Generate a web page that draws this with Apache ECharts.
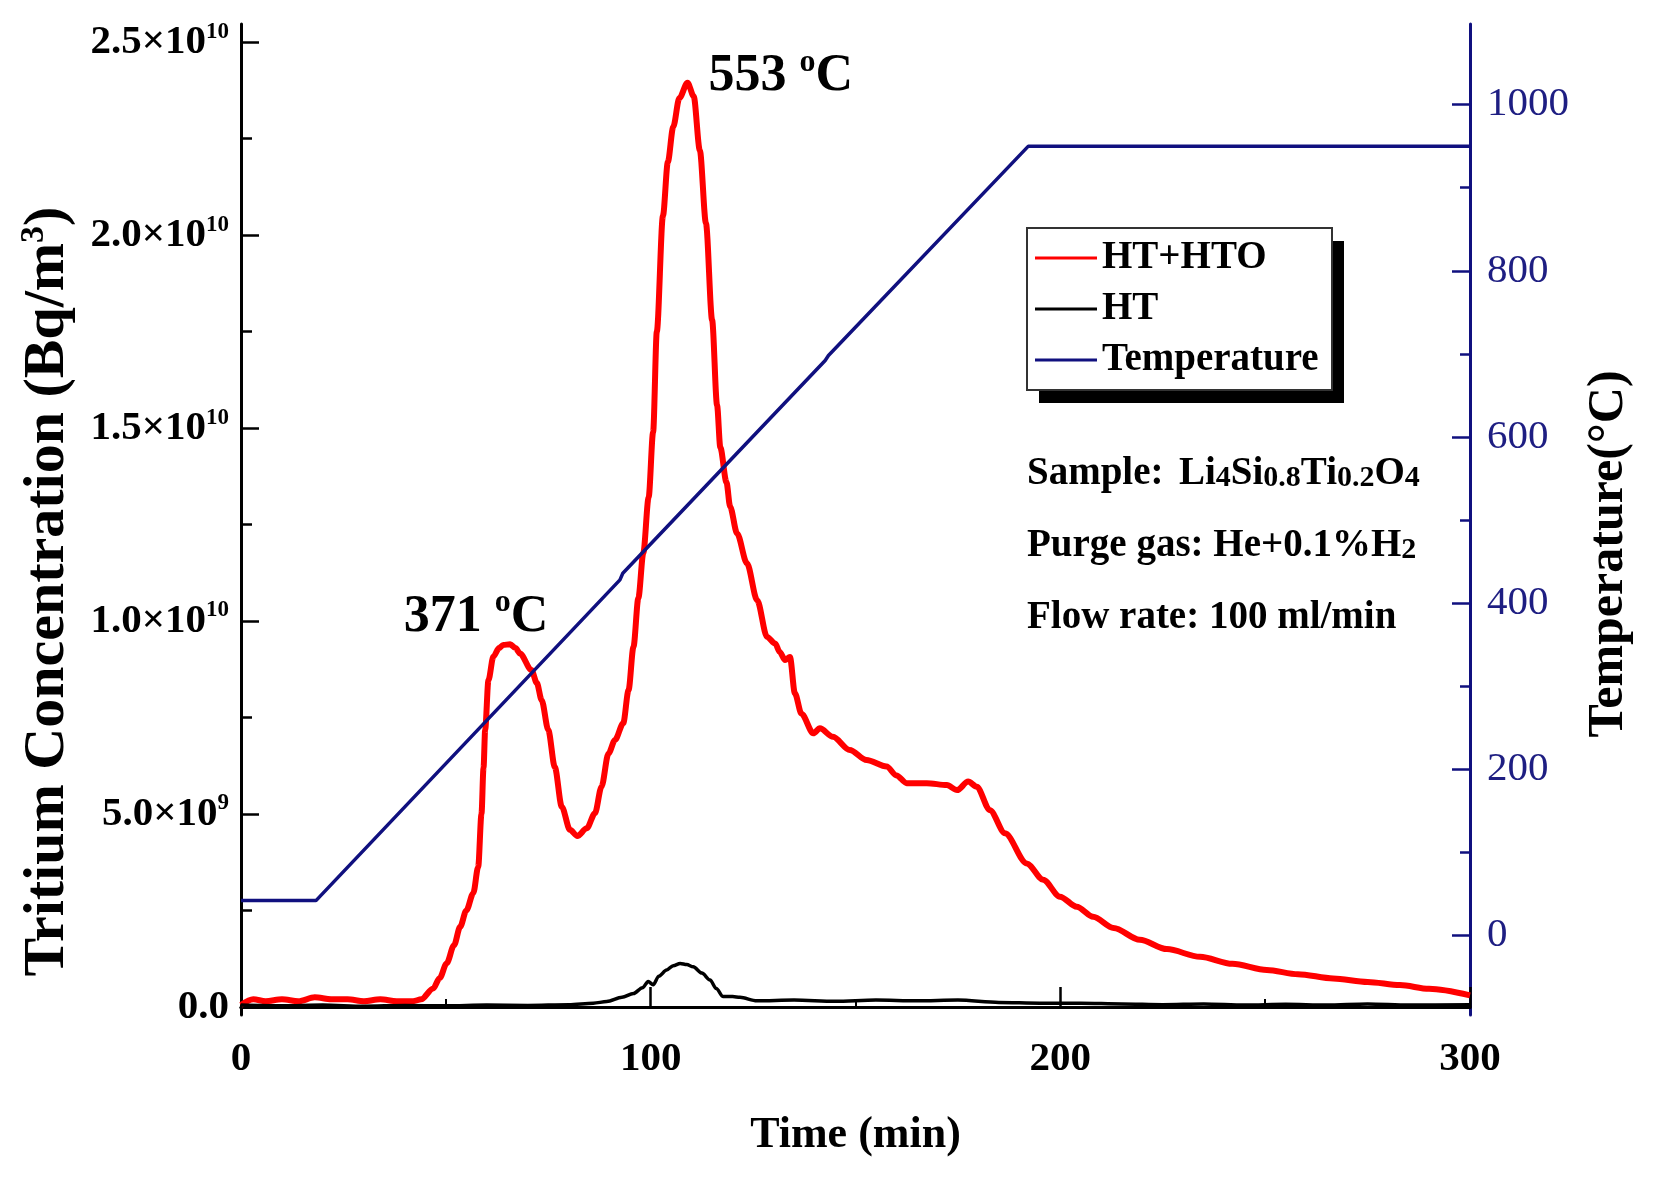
<!DOCTYPE html>
<html>
<head>
<meta charset="utf-8">
<title>Tritium release</title>
<script src="https://cdn.jsdelivr.net/npm/echarts@6.0.0/dist/echarts.min.js"></script>
<style>
    body{margin:0;background:#ffffff;}
    #main{width:1654px;height:1178px;}
</style>
</head>
<body>
<div id="main"></div>
<script>
// HT+HTO curve, time in min, concentration in 1e9 Bq/m3
const timeHTO = [0, 3, 6, 10, 14, 18, 22, 26, 30, 34, 38, 42, 44, 46.9, 48.5, 50.2, 52, 53.5, 55, 56.7, 57.9, 58.7, 59.2, 59.6, 60.4, 61.6, 63, 64, 65.7, 67, 68.1, 70.9, 72.2, 73.4, 75, 76.6, 78.3, 80.3, 82.1, 84.4, 86.4, 88, 89.7, 91.3, 93.3, 94.6, 95.8, 97, 98.2, 99.5, 100.6, 101.5, 103, 104.2, 105.5, 107, 109, 110.5, 112, 113.5, 115, 116.2, 117, 118.5, 119.4, 121.1, 123.5, 126, 128.4, 130.4, 131.5, 132.8, 134, 135.2, 136.8, 139.7, 141.3, 144.5, 148.6, 152.7, 157.6, 160, 162.5, 167.4, 172.3, 174.8, 177.5, 179.6, 182.8, 186.5, 191.8, 195.8, 199.9, 204, 208, 213, 219.4, 226, 234.1, 242, 250.4, 258, 266.6, 275, 282.9, 290, 300];
const valHTO = [0.05, 0.2, 0.15, 0.2, 0.15, 0.25, 0.2, 0.2, 0.15, 0.2, 0.15, 0.15, 0.2, 0.48, 0.75, 1.13, 1.6, 2.08, 2.5, 2.95, 3.63, 5.0, 6.2, 7.18, 8.47, 9.08, 9.3, 9.38, 9.4, 9.3, 9.16, 8.73, 8.4, 7.95, 7.18, 6.22, 5.19, 4.59, 4.43, 4.63, 5.02, 5.71, 6.57, 6.92, 7.35, 8.21, 9.33, 10.6, 11.76, 13.2, 14.9, 17.5, 20.5, 21.9, 22.8, 23.55, 23.95, 23.6, 22.2, 20.3, 17.8, 15.6, 14.5, 13.6, 12.96, 12.27, 11.5, 10.54, 9.59, 9.42, 9.2, 8.99, 9.07, 8.13, 7.6, 7.09, 7.22, 7.0, 6.66, 6.4, 6.23, 6.0, 5.8, 5.8, 5.75, 5.62, 5.84, 5.71, 5.1, 4.5, 3.72, 3.3, 2.86, 2.6, 2.34, 2.05, 1.74, 1.5, 1.3, 1.12, 0.96, 0.85, 0.74, 0.65, 0.57, 0.47, 0.3];

// HT curve
const timeHT = [0, 10, 20, 30, 40, 50, 60, 70, 80, 86, 89.3, 93, 95.8, 98, 99.4, 100.6, 102, 103.9, 105.5, 107.2, 108.8, 110.4, 112.5, 114.5, 116, 117.7, 120, 121.8, 125.9, 135, 145, 155, 165, 175, 185, 195, 205, 215, 225, 235, 245, 255, 265, 275, 285, 300];
const valHT = [0.05, 0.03, 0.05, 0.02, 0.04, 0.03, 0.05, 0.04, 0.06, 0.1, 0.14, 0.25, 0.35, 0.5, 0.66, 0.58, 0.8, 0.96, 1.07, 1.13, 1.1, 1.04, 0.88, 0.7, 0.48, 0.27, 0.27, 0.25, 0.16, 0.18, 0.15, 0.18, 0.16, 0.18, 0.12, 0.1, 0.1, 0.08, 0.06, 0.08, 0.05, 0.07, 0.05, 0.08, 0.05, 0.06];

// temperature program
const timeTemp = [0, 18.3, 92.5, 93.2, 142.6, 143.4, 192.2, 300];
const valTemp = [42, 42, 428, 436, 692, 698, 950, 950];

// axis ticks
const leftTickValues = [0, 5, 10, 15, 20, 25];
const leftTickLabels = ['0.0', '5.0×10{sup|9}', '1.0×10{sup|10}', '1.5×10{sup|10}', '2.0×10{sup|10}', '2.5×10{sup|10}'];
const leftMinorValues = [2.5, 7.5, 12.5, 17.5, 22.5];
const rightTickValues = [0, 200, 400, 600, 800, 1000];
const rightMinorValues = [100, 300, 500, 700, 900];

const legendNames = ['HT+HTO', 'HT', 'Temperature'];
const noteLines = [
    '{b|Sample:}',
    '{b|Li}{s|4}{b|Si}{s|0.8}{b|Ti}{s|0.2}{b|O}{s|4}',
    '{b|Purge gas: He+0.1%H}{s|2}',
    '{b|Flow rate: 100 ml/min}'
];

const FONT = '"Liberation Serif", "Times New Roman", serif';
const NAVY = '#10107f';

function pairs(xs, ys){
    return xs.map((x, i) => [x, ys[i]]);
}

function leftLabel(val){
    for(let i in leftTickValues){
        if(Math.abs(leftTickValues[i] - val) < 1e-6){
            return leftTickLabels[i];
        }
    }
    return '';
}

function peakLabel(text, align, offset){
    return {
        show: true,
        position: 'inside',
        align: align,
        verticalAlign: 'middle',
        offset: offset,
        formatter: '{n|' + text + ' }{sup|o}{n|C}',
        rich: {
            n: {fontFamily: FONT, fontSize: 52, fontWeight: 'bold', color: '#000', lineHeight: 56, verticalAlign: 'bottom'},
            sup: {fontFamily: FONT, fontSize: 32, fontWeight: 'bold', color: '#000', lineHeight: 32, verticalAlign: 'top'}
        }
    };
}

function renderChart(){
    let myChart = echarts.init(document.getElementById('main'));
    let subRich = {
        b: {fontFamily: FONT, fontSize: 39, fontWeight: 'bold', color: '#000', lineHeight: 46, verticalAlign: 'bottom'},
        s: {fontFamily: FONT, fontSize: 30, fontWeight: 'bold', color: '#000', lineHeight: 30, verticalAlign: 'bottom'}
    };
    let option = {
        backgroundColor: '#ffffff',
        animation: false,
        grid: {left: 241, right: 184, top: 24, bottom: 163, outerBoundsMode: 'none'},
        legend: {
            data: legendNames,
            orient: 'vertical',
            left: 1027,
            top: 228,
            padding: [10, 8, 10, 8],
            itemGap: 11,
            itemWidth: 62,
            itemHeight: 3,
            icon: 'rect',
            textStyle: {fontFamily: FONT, fontSize: 39, fontWeight: 'bold', color: '#000', lineHeight: 40}
        },
        xAxis: [{
            type: 'value',
            position: 'bottom',
            min: 0,
            max: 300,
            interval: 100,
            axisLine: {lineStyle: {color: '#000', width: 3}},
            axisTick: {inside: true, length: 20, lineStyle: {color: '#000', width: 2.5}},
            minorTick: {show: true, splitNumber: 2, length: 8, lineStyle: {color: '#000', width: 2}},
            axisLabel: {margin: 24, fontFamily: FONT, fontSize: 41, fontWeight: 'bold', color: '#000'},
            splitLine: {show: false},
            name: 'Time (min)',
            nameLocation: 'middle',
            nameGap: 99,
            nameTextStyle: {fontFamily: FONT, fontSize: 44, fontWeight: 'bold', color: '#000'}
        }, {
            // top frame line
            type: 'value',
            position: 'top',
            min: 0,
            max: 300,
            axisLine: {lineStyle: {color: '#000', width: 3}},
            axisTick: {show: false},
            axisLabel: {show: false},
            splitLine: {show: false}
        }],
        yAxis: [{
            type: 'value',
            position: 'left',
            min: -0.207,
            max: 25.47,
            axisLine: {show: true, lineStyle: {color: '#000', width: 3}},
            axisTick: {show: true, inside: true, length: 18, customValues: leftTickValues, lineStyle: {color: '#000', width: 2.5}},
            axisLabel: {
                customValues: leftTickValues,
                margin: 12,
                formatter: leftLabel,
                fontFamily: FONT, fontSize: 41, fontWeight: 'bold', color: '#000', lineHeight: 44,
                rich: {
                    sup: {fontFamily: FONT, fontSize: 23, fontWeight: 'bold', color: '#000', lineHeight: 22, verticalAlign: 'top'}
                }
            },
            splitLine: {show: false},
            name: 'Tritium Concentration (Bq/m{sup|3})',
            nameLocation: 'middle',
            nameRotate: 90,
            nameGap: 162,
            nameTextStyle: {
                fontFamily: FONT, fontSize: 58, fontWeight: 'bold', color: '#000', lineHeight: 62,
                padding: [0, 144, 0, 0],
                rich: {
                    sup: {fontFamily: FONT, fontSize: 34, fontWeight: 'bold', color: '#000', lineHeight: 34, verticalAlign: 'top'}
                }
            }
        }, {
            // minor ticks of the left axis
            type: 'value',
            position: 'left',
            min: -0.207,
            max: 25.47,
            axisLine: {show: false},
            axisTick: {show: true, inside: true, length: 11, customValues: leftMinorValues, lineStyle: {color: '#000', width: 2.5}},
            axisLabel: {show: false},
            splitLine: {show: false}
        }, {
            type: 'value',
            position: 'right',
            min: -95.7,
            max: 1097,
            axisLine: {show: true, lineStyle: {color: NAVY, width: 3}},
            axisTick: {show: true, inside: true, length: 18, customValues: rightTickValues, lineStyle: {color: NAVY, width: 2.5}},
            axisLabel: {
                customValues: rightTickValues,
                margin: 17,
                formatter: (v) => String(v),
                fontFamily: FONT, fontSize: 41, color: '#1e1e82'
            },
            splitLine: {show: false},
            name: 'Temperature(°C)',
            nameLocation: 'middle',
            nameRotate: 90,
            nameGap: 112,
            nameTextStyle: {fontFamily: FONT, fontSize: 50, fontWeight: 'bold', color: '#000', lineHeight: 54, padding: [0, 69, 0, 0]}
        }, {
            // minor ticks of the right axis
            type: 'value',
            position: 'right',
            min: -95.7,
            max: 1097,
            axisLine: {show: false},
            axisTick: {show: true, inside: true, length: 10, customValues: rightMinorValues, lineStyle: {color: NAVY, width: 2.5}},
            axisLabel: {show: false},
            splitLine: {show: false}
        }],
        graphic: [{
            // legend box with its drop shadow
            type: 'rect',
            z: 3,
            shape: {x: 1039, y: 241, width: 305, height: 162},
            style: {fill: '#000'}
        }, {
            type: 'rect',
            z: 3,
            shape: {x: 1027, y: 228, width: 305, height: 162},
            style: {fill: '#fff', stroke: '#333', lineWidth: 2}
        }, {
            type: 'text',
            left: 1027,
            top: 454,
            style: {text: noteLines[0], rich: subRich}
        }, {
            type: 'text',
            left: 1179,
            top: 454,
            style: {text: noteLines[1], rich: subRich}
        }, {
            type: 'text',
            left: 1027,
            top: 526,
            style: {text: noteLines[2], rich: subRich}
        }, {
            type: 'text',
            left: 1027,
            top: 598,
            style: {text: noteLines[3], rich: subRich}
        }],
        series: [{
            name: 'HT+HTO',
            type: 'line',
            xAxisIndex: 0,
            yAxisIndex: 0,
            data: pairs(timeHTO, valHTO),
            symbol: 'none',
            smooth: 0.3,
            smoothMonotone: 'x',
            color: '#ff0000',
            lineStyle: {color: '#ff0000', width: 6},
            markPoint: {
                symbol: 'circle',
                symbolSize: 1,
                itemStyle: {color: 'rgba(0,0,0,0)'},
                data: [
                    {coord: [109, 23.95], label: peakLabel('553', 'left', [21, -8])},
                    {coord: [65.7, 9.4], label: peakLabel('371', 'center', [-34, -29])}
                ]
            }
        }, {
            name: 'HT',
            type: 'line',
            xAxisIndex: 0,
            yAxisIndex: 0,
            data: pairs(timeHT, valHT),
            symbol: 'none',
            smooth: 0.3,
            smoothMonotone: 'x',
            color: '#000000',
            lineStyle: {color: '#000000', width: 3.5}
        }, {
            name: 'Temperature',
            type: 'line',
            xAxisIndex: 0,
            yAxisIndex: 2,
            data: pairs(timeTemp, valTemp),
            symbol: 'none',
            color: NAVY,
            lineStyle: {color: NAVY, width: 3.5}
        }]
    };
    myChart.setOption(option);
}

renderChart();
</script>
</body>
</html>
